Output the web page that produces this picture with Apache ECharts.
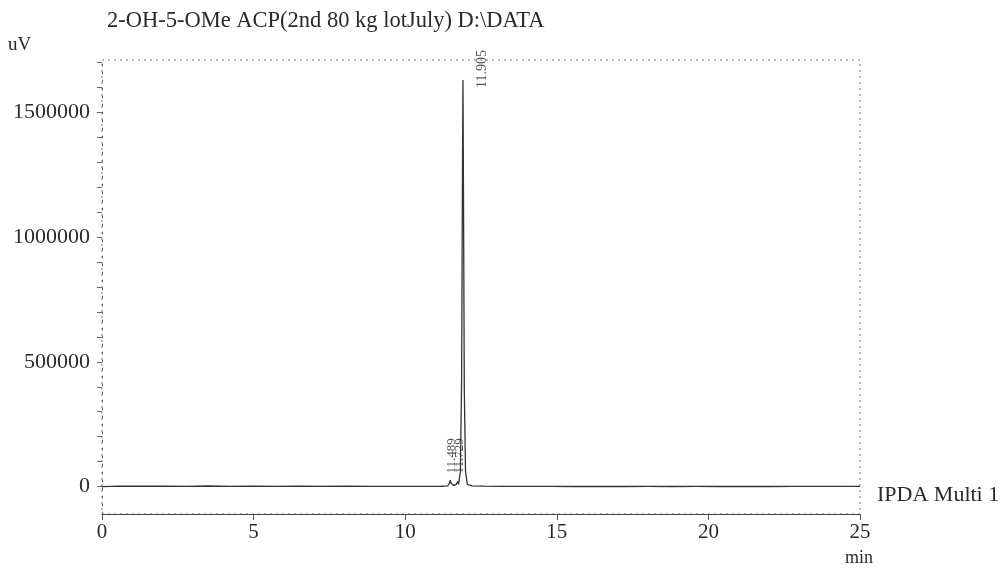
<!DOCTYPE html>
<html>
<head>
<meta charset="utf-8">
<script src="https://cdn.jsdelivr.net/npm/echarts@6/dist/echarts.min.js"></script>
<style>
html,body{margin:0;padding:0;background:#fff;}
#chart{width:1008px;height:571px;}
</style>
</head>
<body>
<div id="chart"></div>
<script>
// ---- data ----
const titleText = '2-OH-5-OMe ACP(2nd 80 kg lotJuly) D:\\DATA';
const yUnit = 'uV';
const xUnit = 'min';
const channelName = 'IPDA Multi 1';
const xTicks = [0, 5, 10, 15, 20, 25];
const yTicks = [0, 500000, 1000000, 1500000];
// retention time (min) and detector response (uV)
const times = [0, 0.6, 1.2, 2.0, 2.8, 3.5, 4.2, 5.0, 5.8, 6.5, 7.2, 8.0, 8.8, 9.5, 10.2, 10.8, 11.2, 11.40, 11.46, 11.489, 11.52, 11.60, 11.69, 11.729, 11.76, 11.82, 11.86, 11.885, 11.905, 11.925, 11.95, 11.99, 12.05, 12.2, 12.6, 13.2, 14.0, 14.8, 15.6, 16.4, 17.2, 18.0, 18.8, 19.6, 20.4, 21.2, 22.0, 22.8, 23.6, 24.4, 25.0];
const signal = [0, 1500, 1200, 1800, 1000, 2200, 800, 1500, 600, 1200, 900, 1400, 700, 1000, 500, 800, 1200, 3000, 14000, 26000, 12000, 4000, 10000, 20000, 9000, 60000, 420000, 1150000, 1630000, 1100000, 380000, 60000, 9000, 3000, 1500, 1000, 500, 900, 300, 600, 200, 400, 300, 500, 200, 400, 300, 700, 900, 600, 500];
const peakTimes = [11.489, 11.729, 11.905];
const peakLabels = ['11.489', '11.729', '11.905'];
const peakHeights = [26000, 20000, 1630000];

// ---- chart ----
const chart = echarts.init(document.getElementById('chart'));
const serif = 'Liberation Serif';
const ink = '#2a2a2a';
const lineData = times.map((t, i) => [t, signal[i]]);
// offsets are in the rotated label frame: [along text (up), across (right)]
const labelOffsets = [[1.5, 1], [3, 1.5], [-13, 19]];
const labelSizes = [13, 13, 14];
const peakPoints = peakTimes.map((t, i) => ({
  value: [t, peakHeights[i]],
  label: {
    show: true,
    formatter: peakLabels[i],
    rotate: 90,
    position: 'top',
    align: 'left',
    verticalAlign: 'middle',
    offset: labelOffsets[i],
    fontFamily: serif,
    fontSize: labelSizes[i],
    color: ink
  }
}));
const minorY = [];
for (let v = 0; v <= 1700000; v += 100000) minorY.push(v);

chart.setOption({
  backgroundColor: '#fff',
  animation: false,
  grid: {
    left: 102, right: 148, top: 60, bottom: 57,
    show: true, borderColor: '#777', borderWidth: 1, borderType: [2, 4]
  },
  title: {
    text: titleText,
    left: 102, top: 5,
    textStyle: { fontFamily: serif, fontSize: 22.5, fontWeight: 'normal', color: ink }
  },
  graphic: [
    { type: 'text', left: 8, top: 36, style: { text: yUnit, font: '19px "Liberation Serif"', fill: ink } },
    { type: 'text', left: 877, top: 484, style: { text: channelName, font: '22px "Liberation Serif"', fill: ink } },
    { type: 'text', left: 845, top: 549, style: { text: xUnit, font: '18px "Liberation Serif"', fill: ink } }
  ],
  xAxis: {
    type: 'value', min: 0, max: 25, interval: 5,
    axisLine: { show: true, onZero: false, lineStyle: { color: '#444', width: 1.2 } },
    axisTick: { show: true, length: 6, inside: false, lineStyle: { color: '#555' } },
    axisLabel: { fontFamily: serif, fontSize: 21, color: ink, margin: 8,
      customValues: xTicks },
    splitLine: { show: false }
  },
  yAxis: {
    type: 'value', min: -110000, max: 1710000,
    axisLine: { show: true, onZero: false, lineStyle: { color: '#666', type: [2, 6] } },
    axisTick: { show: true, length: 5, customValues: minorY, lineStyle: { color: '#666' } },
    axisLabel: { fontFamily: serif, fontSize: 22, color: ink, margin: 12,
      customValues: yTicks, formatter: v => String(v) },
    splitLine: { show: false }
  },
  series: [
    {
      type: 'line',
      data: lineData,
      symbol: 'none',
      lineStyle: { color: '#333', width: 1.3 },
      z: 3
    },
    {
      type: 'scatter',
      data: peakPoints,
      symbolSize: 0,
      z: 4
    }
  ]
});
</script>
</body>
</html>
